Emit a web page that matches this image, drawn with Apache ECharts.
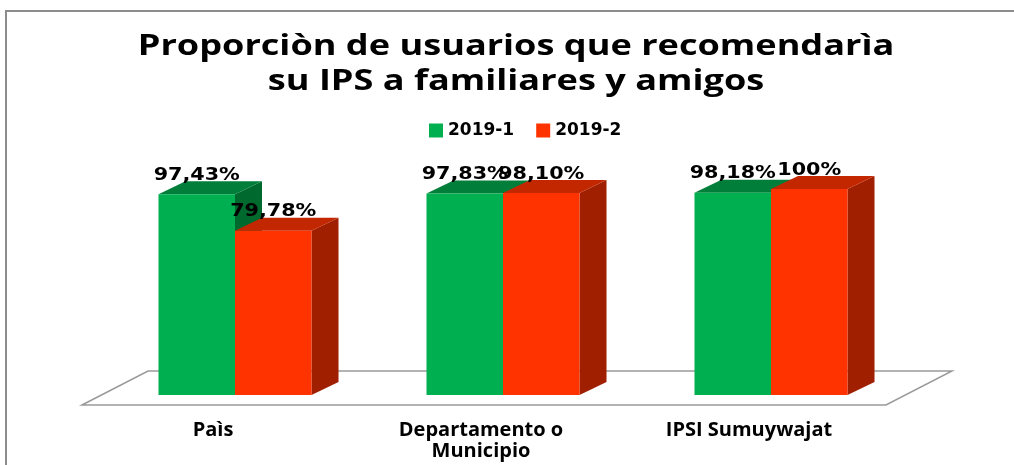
<!DOCTYPE html>
<html>
<head>
<meta charset="utf-8">
<script src="https://cdn.jsdelivr.net/npm/echarts@6/dist/echarts.min.js"></script>
<style>
  html, body { margin: 0; padding: 0; background: #fff; }
  #main-chart { width: 1014px; height: 465px; }
</style>
</head>
<body>
<div id="main-chart"></div>
<script>
const titleLines = ['Proporciòn de usuarios que recomendarìa', 'su IPS a familiares y amigos'];
const categories = ['Paìs', 'Departamento o\nMunicipio', 'IPSI Sumuywajat'];
const seriesNames = ['2019-1', '2019-2'];
const values2019_1 = [97.43, 97.83, 98.18];
const values2019_2 = [79.78, 98.10, 100];

const colors = [
    { front: '#00B050', top: '#007E3A', side: '#006A2E' },
    { front: '#FF3300', top: '#C22700', side: '#A01F00' }
];

// depth of the fake 3d bars and of the floor
const barDepth = [27, -13];
const floorFront = [-19, 10];
const floorBack = [47, -24];

const mainChart = echarts.init(document.getElementById('main-chart'));

function fmtPct(v) {
    if (v % 1 === 0) return v + '%';
    return v.toFixed(2).replace('.', ',') + '%';
}

function barRenderer(idx) {
    const c = colors[idx];
    return function (params, api) {
        const cat = api.value(0);
        const val = api.value(1);
        const top = api.coord([cat, val]);
        const base = api.coord([cat, 0]);
        const band = api.size([1, 0])[0];
        const w = band * 0.2855;
        const x0 = top[0] - w + idx * w;
        const x1 = x0 + w;
        const dx = barDepth[0], dy = barDepth[1];
        return {
            type: 'group',
            children: [
                {
                    type: 'polygon',
                    shape: { points: [[x1, top[1]], [x1 + dx, top[1] + dy], [x1 + dx, base[1] + dy], [x1, base[1]]] },
                    style: { fill: c.side }
                },
                {
                    type: 'polygon',
                    shape: { points: [[x0, top[1]], [x0 + dx, top[1] + dy], [x1 + dx, top[1] + dy], [x1, top[1]]] },
                    style: { fill: c.top }
                },
                {
                    type: 'rect',
                    shape: { x: x0, y: top[1], width: w, height: base[1] - top[1] },
                    style: { fill: c.front }
                },
                {
                    type: 'text',
                    x: (x0 + x1) / 2,
                    y: top[1] - 19,
                    scaleX: 1.15,
                    style: {
                        text: fmtPct(val),
                        fill: '#000',
                        font: 'bold 18px "DejaVu Sans"',
                        align: 'center',
                        verticalAlign: 'middle'
                    }
                }
            ]
        };
    };
}

function floorRenderer(params, api) {
    const cs = params.coordSys;
    const y0 = cs.y + cs.height;
    const l = cs.x, r = cs.x + cs.width;
    return {
        type: 'polygon',
        shape: {
            points: [
                [l + floorFront[0], y0 + floorFront[1]],
                [l + floorBack[0], y0 + floorBack[1]],
                [r + floorBack[0], y0 + floorBack[1]],
                [r + floorFront[0], y0 + floorFront[1]]
            ]
        },
        style: { fill: '#fff', stroke: '#9a9a9a', lineWidth: 1.5 }
    };
}

const titleStyle = {
    fill: '#000',
    font: 'bold 28px "Open Sans"',
    align: 'center',
    verticalAlign: 'middle'
};

const option = {
    backgroundColor: '#fff',
    animation: false,
    legend: {
        data: seriesNames,
        top: 117,
        left: 424,
        icon: 'rect',
        itemWidth: 14,
        itemHeight: 14,
        itemGap: 22,
        textStyle: { fontFamily: 'DejaVu Sans', fontWeight: 'bold', fontSize: 17, color: '#000' }
    },
    graphic: [
        {
            type: 'rect',
            shape: { x: 6, y: 11, width: 1200, height: 700 },
            style: { fill: 'none', stroke: '#8c8c8c', lineWidth: 2 },
            silent: true
        },
        { type: 'text', x: 516, y: 47, scaleX: 1.29, style: Object.assign({ text: titleLines[0] }, titleStyle) },
        { type: 'text', x: 516, y: 82, scaleX: 1.29, style: Object.assign({ text: titleLines[1] }, titleStyle) }
    ],
    grid: { left: 101, right: 109, top: 189, bottom: 70 },
    xAxis: {
        type: 'category',
        data: categories,
        axisLine: { show: false },
        axisTick: { show: false },
        axisLabel: {
            margin: 25,
            fontFamily: 'Open Sans',
            fontWeight: 'bold',
            fontSize: 20,
            lineHeight: 21,
            color: '#000',
            padding: [0, 44, 0, 0]
        }
    },
    yAxis: { type: 'value', min: 0, max: 100, show: false },
    series: [
        {
            type: 'custom',
            name: 'floor',
            renderItem: floorRenderer,
            data: [[0, 0]],
            silent: true,
            z: 1
        },
        {
            type: 'custom',
            name: seriesNames[0],
            itemStyle: { color: colors[0].front },
            renderItem: barRenderer(0),
            data: values2019_1.map((v, i) => [i, v]),
            z: 2
        },
        {
            type: 'custom',
            name: seriesNames[1],
            itemStyle: { color: colors[1].front },
            renderItem: barRenderer(1),
            data: values2019_2.map((v, i) => [i, v]),
            z: 3
        }
    ]
};

mainChart.setOption(option);
</script>
</body>
</html>
